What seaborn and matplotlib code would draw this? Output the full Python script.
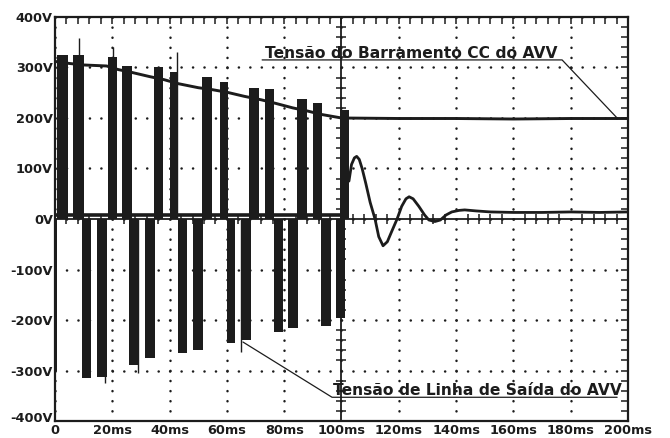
import numpy as np
import pandas as pd
import matplotlib
matplotlib.use('Agg')
import matplotlib.pyplot as plt
import matplotlib.transforms as mtransforms
import seaborn as sns

sns.set_theme(style='white')
plt.rcParams['font.family'] = ['DejaVu Sans']
plt.rcParams['lines.scale_dashes'] = False

INK = '#1c1c1c'

# DC bus voltage (time in ms, volts)
bus_t = [0, 5, 10, 18, 22, 27, 33, 38, 43, 50, 55, 60, 66, 72, 77, 83, 88, 93, 97, 100,
         120, 140, 160, 180, 200]
bus_v = [312, 308, 305, 303, 296, 290, 282, 276, 268, 260, 256, 251, 243, 236, 229, 220,
         214, 207, 203, 200, 199, 199, 198, 199, 199]

# line voltage, PWM bursts (start, end in ms, peak in V)
pos_start = [0.7, 6.3, 18.5, 23.4, 34.5, 40.2, 51.3, 57.5, 67.6, 73.3, 84.5, 90.0, 99.5]
pos_end = [4.5, 10.0, 21.5, 26.7, 37.8, 43.0, 54.8, 60.4, 71.1, 76.6, 87.9, 93.3, 102.6]
pos_top = [325, 325, 320, 303, 300, 291, 281, 271, 259, 257, 237, 229, 215]

neg_start = [0.0, 9.4, 14.6, 26.0, 31.4, 43.0, 48.3, 60.0, 65.1, 76.4, 81.4, 93.0, 98.0]
neg_end = [0.8, 12.5, 18.1, 29.0, 35.0, 46.0, 51.5, 62.9, 68.3, 79.5, 84.8, 96.2, 101.2]
neg_bottom = [-300, -315, -312, -289, -275, -266, -259, -246, -240, -223, -216, -212, -196]

# switching spikes
spike_t = [8.4, 20.3, 42.6, 17.4, 29.0, 65.0]
spike_v = [358, 341, 330, -325, -305, -263]

# line voltage resting level between bursts
rest_t = [0, 100]
rest_v = [8, 8]

# damped oscillation after the inverter stops
osc_t = [102.6, 103.5, 104.5, 105.3, 106.2, 107.2, 108.5, 110, 111.7, 113, 114.5, 116,
         117.5, 119.4, 121, 122.5, 123.6, 125, 127, 129, 130.5, 132.6, 134.5, 136.5,
         138.5, 141, 143, 147, 152, 160, 170, 180, 190, 200]
osc_v = [75, 108, 121, 124, 118, 100, 70, 33, 0, -35, -53, -45, -25, 0, 25, 40, 44, 40,
         25, 8, -2, -5, -2, 8, 14, 17, 18, 16, 14, 13, 13, 14, 13, 14]

x_major = list(range(0, 201, 20))
x_labels = ['0'] + [f'{t}ms' for t in x_major[1:]]
y_major = list(range(-400, 401, 100))
y_labels = [f'{v}V' for v in y_major]

fig = plt.figure(figsize=(6.7, 4.38), dpi=100)
ax = fig.add_axes([0.0821, 0.0388, 0.8552, 0.9224])
ax.set_xlim(0, 200)
ax.set_ylim(-400, 400)

# scope graticule
ax.set_xticks(x_major)
ax.set_xticklabels(x_labels, fontweight='bold', fontsize=9.3, color=INK)
ax.set_yticks(y_major)
ax.set_yticklabels(y_labels, fontweight='bold', fontsize=9.3, color=INK)
ax.set_xticks(np.arange(0, 201, 4), minor=True)
ax.set_yticks(np.arange(-400, 401, 20), minor=True)
ax.tick_params(which='both', direction='in', top=True, right=True, length=5,
               width=1.1, color=INK)
ax.tick_params(axis='x', pad=2.5)
ax.tick_params(axis='y', pad=1.5)
# nudge the lowest y label up so it clears the "0" below it
low = ax.get_yticklabels()[0]
low.set_transform(low.get_transform() + mtransforms.ScaledTranslation(0, 3 / 72, fig.dpi_scale_trans))

ax.xaxis.grid(True, which='major', ls=(0, (0.1, 7.17)), lw=1.8, color=INK,
              dash_capstyle='round')
ax.yaxis.grid(True, which='major', ls=(0, (0.1, 8.15)), lw=1.8, color=INK,
              dash_capstyle='round')
ax.set_axisbelow(True)
for sp in ax.spines.values():
    sp.set_color(INK)
    sp.set_linewidth(1.6)

ax.axhline(0, color=INK, lw=1.3, zorder=1.5)
ax.axvline(100, color=INK, lw=1.3, zorder=1.5)
mx = ax.xaxis.get_minorticklocs()
my = ax.yaxis.get_minorticklocs()
ax.plot(mx, np.zeros_like(mx), ls='none', marker='|', ms=7, mew=1.1, color=INK, zorder=1.5)
ax.plot(np.full_like(my, 100), my, ls='none', marker='_', ms=7, mew=1.1, color=INK, zorder=1.5)

# traces
ax.plot(rest_t, rest_v, color=INK, lw=2.6, zorder=2)
ax.bar(pos_start, pos_top, width=np.subtract(pos_end, pos_start), align='edge',
       color=INK, linewidth=0, zorder=2)
ax.bar(neg_start, neg_bottom, width=np.subtract(neg_end, neg_start), align='edge',
       color=INK, linewidth=0, zorder=2)
ax.vlines(spike_t, 0, spike_v, color=INK, lw=1.0, zorder=2)

bus = pd.DataFrame({'t': bus_t, 'v': bus_v})
osc = pd.DataFrame({'t': osc_t, 'v': osc_v})
sns.lineplot(data=bus, x='t', y='v', ax=ax, color=INK, lw=2.1, zorder=3)
sns.lineplot(data=osc, x='t', y='v', ax=ax, color=INK, lw=2.0, zorder=3)
ax.set_xlabel('')
ax.set_ylabel('')

# labels with leader lines
ax.text(73.3, 318, 'Tensão do Barramento CC do AVV', fontsize=11.2, fontweight='bold',
        color=INK, ha='left', va='baseline', zorder=4)
ax.plot([72.3, 177, 196.2], [315, 315, 200], color=INK, lw=0.9, zorder=4)
ax.text(97, -349, 'Tensão de Linha de Saída do AVV', fontsize=11.2, fontweight='bold',
        color=INK, ha='left', va='baseline', zorder=4)
ax.plot([65.6, 96.7, 196.2], [-243.6, -353, -353], color=INK, lw=0.9, zorder=4)

fig.savefig('out.png', dpi=100)
